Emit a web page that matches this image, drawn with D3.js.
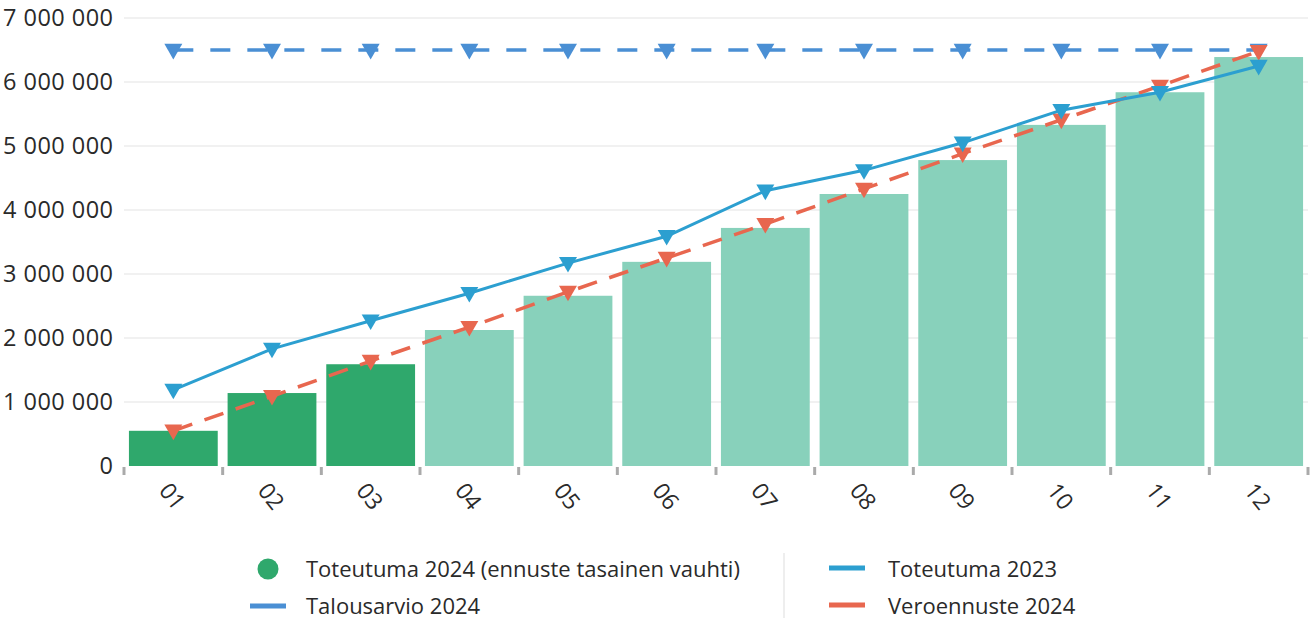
<!DOCTYPE html>
<html>
<head>
<meta charset="utf-8">
<script src="https://cdn.jsdelivr.net/npm/d3@7"></script>
<style>
  body { margin: 0; background: #fff; }
  text { font-family: "Open Sans", "Noto Sans", sans-serif; }
</style>
</head>
<body>
<div id="chart"></div>
<script>
const months = ["01","02","03","04","05","06","07","08","09","10","11","12"];
const actual2024 = [550000, 1140000, 1590000, 2125000, 2660000, 3190000, 3720000, 4250000, 4780000, 5330000, 5840000, 6390000];
const isForecast = [false, false, false, true, true, true, true, true, true, true, true, true];
const actual2023 = [1190000, 1830000, 2270000, 2700000, 3170000, 3590000, 4300000, 4620000, 5050000, 5560000, 5840000, 6250000];
const budget2024 = [6500000, 6500000, 6500000, 6500000, 6500000, 6500000, 6500000, 6500000, 6500000, 6500000, 6500000, 6500000];
const taxForecast2024 = [550000, 1090000, 1640000, 2170000, 2720000, 3250000, 3780000, 4330000, 4880000, 5410000, 5940000, 6480000];
const yTicks = [0, 1000000, 2000000, 3000000, 4000000, 5000000, 6000000, 7000000];

const w = 1315, h = 621;
const padL = 124, padR = 1308, padT = 18, padB = 466;

const svg = d3.select("#chart").append("svg").attr("width", w).attr("height", h);

const x = d3.scaleBand().domain(months).range([padL, padR]).paddingInner(0.1).paddingOuter(0.05);
const xEdge = d3.scaleBand().domain(months).range([padL, padR]);
const y = d3.scaleLinear().domain([0, 7000000]).range([padB, padT]);

const fmt = v => d3.format(",")(v).replace(/,/g, " ");

// grid lines
svg.append("g").selectAll("line").data(yTicks.filter(d => d > 0)).enter().append("line")
   .attr("x1", padL).attr("x2", padR)
   .attr("y1", d => y(d)).attr("y2", d => y(d))
   .attr("stroke", "#ececec").attr("stroke-width", 1.5);

// y labels
svg.append("g").selectAll("text").data(yTicks).enter().append("text")
   .attr("x", 113).attr("y", d => y(d)).attr("dy", "0.35em")
   .attr("text-anchor", "end").attr("font-size", "23.5px").attr("fill", "#2a2a2a")
   .attr("textLength", d => d === 0 ? null : 110)
   .text(fmt);

// bars
svg.append("g").selectAll("rect").data(months).enter().append("rect")
   .attr("x", d => x(d)).attr("width", x.bandwidth())
   .attr("y", (d, i) => y(actual2024[i])).attr("height", (d, i) => padB - y(actual2024[i]))
   .attr("fill", (d, i) => isForecast[i] ? "#88d1bb" : "#2fa86c");

// x tick marks
const edges = months.map(m => xEdge(m)).concat([padR]);
svg.append("g").selectAll("line").data(edges).enter().append("line")
   .attr("x1", d => d).attr("x2", d => d).attr("y1", padB + 1).attr("y2", padB + 9)
   .attr("stroke", "#aaa").attr("stroke-width", 3);

// x labels
svg.append("g").selectAll("text").data(months).enter().append("text")
   .attr("transform", d => "translate(" + (x(d) + x.bandwidth() / 2 - 9) + "," + (padB + 20) + ")rotate(52)")
   .attr("font-size", "23px").attr("fill", "#2a2a2a")
   .attr("dy", "0.35em")
   .text(d => d);

const cx = d => xEdge(d) + xEdge.bandwidth() / 2;
const tri = d3.symbol().type(d3.symbolTriangle).size(140);

const drawLine = (vals, color, dash, width) => {
    const line = d3.line().x((d, i) => cx(months[i])).y(d => y(d));
    svg.append("path").datum(vals)
       .attr("d", line).attr("fill", "none")
       .attr("stroke", color).attr("stroke-width", width)
       .attr("stroke-dasharray", dash);
    svg.append("g").selectAll("path").data(vals).enter().append("path")
       .attr("d", tri)
       .attr("transform", (d, i) => "translate(" + cx(months[i]) + "," + (y(d) - 1) + ")rotate(180)")
       .attr("fill", color);
};

drawLine(budget2024, "#4a8fd4", "20,17", 3.5);
drawLine(taxForecast2024, "#e8674f", "20,13", 3.5);
drawLine(actual2023, "#2c9fd0", null, 3);

// legend
const lg = svg.append("g");
const fs = "22px";
lg.append("circle").attr("cx", 268).attr("cy", 569).attr("r", 10.5).attr("fill", "#2fa86c");
lg.append("text").attr("x", 306).attr("y", 569).attr("dy", "0.35em").attr("font-size", fs).attr("fill", "#2a2a2a")
  .text("Toteutuma 2024 (ennuste tasainen vauhti)");
lg.append("line").attr("x1", 250).attr("x2", 286).attr("y1", 606).attr("y2", 606)
  .attr("stroke", "#4a8fd4").attr("stroke-width", 5);
lg.append("text").attr("x", 306).attr("y", 606).attr("dy", "0.35em").attr("font-size", fs).attr("fill", "#2a2a2a")
  .text("Talousarvio 2024");
lg.append("line").attr("x1", 784).attr("x2", 784).attr("y1", 553).attr("y2", 618)
  .attr("stroke", "#eee").attr("stroke-width", 2);
lg.append("line").attr("x1", 829).attr("x2", 865).attr("y1", 568).attr("y2", 568)
  .attr("stroke", "#2c9fd0").attr("stroke-width", 5);
lg.append("text").attr("x", 888).attr("y", 569).attr("dy", "0.35em").attr("font-size", fs).attr("fill", "#2a2a2a")
  .text("Toteutuma 2023");
lg.append("line").attr("x1", 829).attr("x2", 865).attr("y1", 605).attr("y2", 605)
  .attr("stroke", "#e8674f").attr("stroke-width", 5);
lg.append("text").attr("x", 888).attr("y", 606).attr("dy", "0.35em").attr("font-size", fs).attr("fill", "#2a2a2a")
  .text("Veroennuste 2024");
</script>
</body>
</html>
